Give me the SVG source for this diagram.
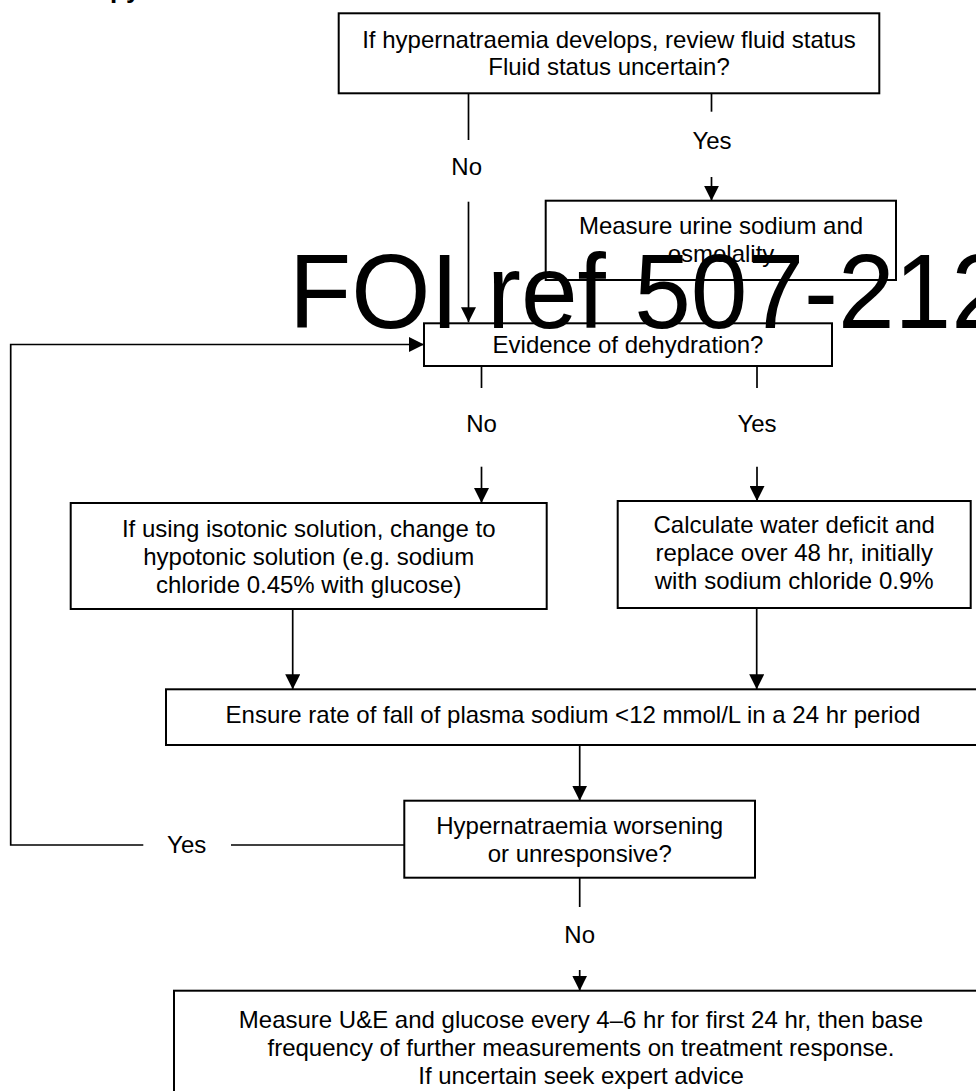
<svg xmlns="http://www.w3.org/2000/svg" width="976" height="1091" viewBox="0 0 976 1091">
  <defs>
    <marker id="arrow" markerUnits="userSpaceOnUse" markerWidth="15" markerHeight="15" viewBox="0 0 15 15" refX="15" refY="7.5" orient="auto">
      <path d="M0,0 L15,7.5 L0,15 Z" fill="#000"/>
    </marker>
  </defs>
  <style>
    .box{fill:#fff;stroke:#000;stroke-width:2}
    .t{font-family:"Liberation Sans",Arial,sans-serif;font-size:24px;fill:#000;text-anchor:middle}
    .ln{fill:none;stroke:#000;stroke-width:1.7}
    .arr{marker-end:url(#arrow)}
    .wm{font-family:"Liberation Sans",Arial,sans-serif;font-size:105px;fill:#000}
    .head{font-family:"Liberation Sans",Arial,sans-serif;font-size:26px;font-weight:bold;fill:#000}
  </style>
  <rect width="976" height="1091" fill="#fff"/>

  <!-- heading, only the descenders fall inside the page -->
  <text class="head" x="110" y="-2">py</text>

  <!-- connectors -->
  <g id="connectors">
    <line class="ln" x1="468.5" y1="93.3" x2="468.5" y2="140"/>
    <text class="t" x="466.7" y="175">No</text>
    <line class="ln arr" x1="468.5" y1="201.7" x2="468.5" y2="322.3"/>

    <line class="ln" x1="711.5" y1="93.3" x2="711.5" y2="111.7"/>
    <text class="t" x="712" y="149">Yes</text>
    <line class="ln arr" x1="711.5" y1="177" x2="711.5" y2="200.7"/>

    <line class="ln" x1="481.5" y1="366" x2="481.5" y2="388"/>
    <text class="t" x="481.5" y="432">No</text>
    <line class="ln arr" x1="481.5" y1="466.7" x2="481.5" y2="503"/>

    <line class="ln" x1="757" y1="366" x2="757" y2="388"/>
    <text class="t" x="757" y="432">Yes</text>
    <line class="ln arr" x1="757" y1="466.7" x2="757" y2="501"/>

    <line class="ln arr" x1="292.7" y1="609" x2="292.7" y2="689.3"/>
    <line class="ln arr" x1="756.7" y1="608" x2="756.7" y2="689.3"/>

    <line class="ln arr" x1="579.7" y1="745" x2="579.7" y2="800.7"/>

    <line class="ln" x1="579.7" y1="877.7" x2="579.7" y2="907"/>
    <text class="t" x="579.7" y="943">No</text>
    <line class="ln arr" x1="579.7" y1="970" x2="579.7" y2="990.7"/>

    <line class="ln" x1="404.3" y1="845" x2="231" y2="845"/>
    <text class="t" x="186.7" y="853">Yes</text>
    <polyline class="ln arr" points="143.3,845 10.7,845 10.7,344.5 424,344.5"/>
  </g>

  <g id="n-start">
    <rect class="box" x="338.7" y="13.3" width="540.6" height="80"/>
    <text class="t" x="609" y="47.5">If hypernatraemia develops, review fluid status</text>
    <text class="t" x="609" y="75">Fluid status uncertain?</text>
  </g>

  <g id="n-urine">
    <rect class="box" x="545.7" y="200.7" width="350.3" height="79.3"/>
    <text class="t" x="721" y="234">Measure urine sodium and</text>
    <text class="t" x="721" y="262">osmolality</text>
  </g>

  <g id="n-dehydration">
    <rect class="box" x="424" y="323.3" width="408" height="42.7"/>
    <text class="t" x="628" y="353">Evidence of dehydration?</text>
  </g>

  <g id="n-hypotonic">
    <rect class="box" x="70.7" y="503" width="476" height="106"/>
    <text class="t" x="308.7" y="537">If using isotonic solution, change to</text>
    <text class="t" x="308.7" y="565">hypotonic solution (e.g. sodium</text>
    <text class="t" x="308.7" y="593">chloride 0.45% with glucose)</text>
  </g>

  <g id="n-deficit">
    <rect class="box" x="617.7" y="501" width="353" height="107"/>
    <text class="t" x="794.2" y="533">Calculate water deficit and</text>
    <text class="t" x="794.2" y="561">replace over 48 hr, initially</text>
    <text class="t" x="794.2" y="589">with sodium chloride 0.9%</text>
  </g>

  <g id="n-rate">
    <rect class="box" x="166" y="689.3" width="824" height="55.7"/>
    <text class="t" x="573" y="723">Ensure rate of fall of plasma sodium &lt;12 mmol/L in a 24 hr period</text>
  </g>

  <g id="n-worsening">
    <rect class="box" x="404.3" y="800.7" width="350.7" height="77"/>
    <text class="t" x="579.7" y="834">Hypernatraemia worsening</text>
    <text class="t" x="579.7" y="862">or unresponsive?</text>
  </g>

  <g id="n-monitor">
    <rect class="box" x="174" y="990.7" width="820" height="130"/>
    <text class="t" x="581" y="1028">Measure U&amp;E and glucose every 4–6 hr for first 24 hr, then base</text>
    <text class="t" x="581" y="1056">frequency of further measurements on treatment response.</text>
    <text class="t" x="581" y="1084">If uncertain seek expert advice</text>
  </g>

  <!-- reference stamp across the page, slightly condensed -->
  <text class="wm" transform="translate(289,328) scale(0.97,1)" x="0" y="0">FOI ref 507-212</text>
</svg>
